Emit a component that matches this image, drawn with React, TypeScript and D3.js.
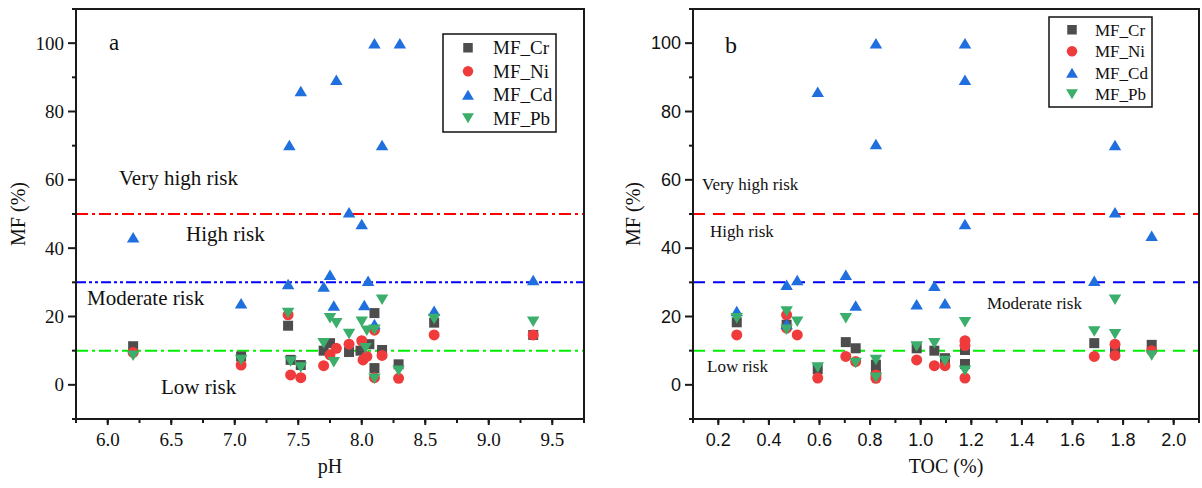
import React from "react";
import * as d3 from "d3";

type P = [number, number];

// ---- Panel a: pH vs MF (%) ----
const phCr: P[] = [[6.2, 11.3], [7.05, 8.3], [7.42, 17.3], [7.44, 7.3], [7.52, 5.8], [7.7, 10], [7.75, 12.2], [7.9, 9.6], [7.99, 10], [8.06, 11.9], [8.1, 21], [8.1, 4.9], [8.16, 10.2], [8.29, 6], [8.57, 18.2], [9.35, 14.6]];
const phNi: P[] = [[6.2, 9.5], [7.05, 5.8], [7.42, 20.5], [7.44, 2.9], [7.52, 2.1], [7.7, 5.6], [7.75, 8.8], [7.8, 10.7], [7.9, 11.9], [8.0, 12.9], [8.01, 7.3], [8.04, 8.3], [8.1, 16], [8.1, 2.1], [8.16, 8.6], [8.29, 1.9], [8.57, 14.6], [9.35, 14.6]];
const phCd: P[] = [[6.2, 43.2], [7.05, 23.9], [7.42, 29.5], [7.43, 70.2], [7.52, 86], [7.7, 28.8], [7.75, 32.2], [7.78, 23.2], [7.8, 89.3], [7.9, 50.5], [8.0, 47.1], [8.02, 23.4], [8.05, 30.5], [8.1, 100], [8.1, 17.8], [8.16, 70.2], [8.3, 100], [8.57, 21.7], [9.35, 30.7]];
const phPb: P[] = [[6.2, 8.5], [7.05, 7.3], [7.42, 21], [7.44, 6.8], [7.52, 5.1], [7.7, 12.2], [7.75, 19.5], [7.78, 6.6], [7.8, 18], [7.9, 14.9], [8.0, 18.5], [8.04, 15.8], [8.03, 10.7], [8.1, 16.1], [8.1, 1.8], [8.16, 24.9], [8.29, 4.1], [8.57, 19.3], [9.35, 18.5]];

// ---- Panel b: TOC (%) vs MF (%) ----
const tocCr: P[] = [[0.273, 18.3], [0.47, 17.6], [0.593, 4.6], [0.704, 12.5], [0.743, 10.7], [0.823, 5.9], [0.823, 3.5], [0.984, 10.7], [1.054, 10], [1.096, 7.8], [1.175, 10.2], [1.175, 6.1], [1.686, 12.2], [1.768, 10.7], [1.913, 11.7]];
const tocNi: P[] = [[0.273, 14.6], [0.47, 20.5], [0.47, 16.6], [0.512, 14.6], [0.593, 2], [0.704, 8.3], [0.743, 6.8], [0.823, 2.9], [0.823, 1.9], [0.984, 7.3], [1.054, 5.6], [1.096, 5.6], [1.175, 12.9], [1.175, 11.5], [1.175, 2], [1.686, 8.3], [1.768, 11.9], [1.768, 8.6], [1.913, 10]];
const tocCd: P[] = [[0.273, 21.6], [0.47, 29.3], [0.47, 17.8], [0.512, 30.7], [0.593, 85.8], [0.704, 32.2], [0.743, 23.2], [0.823, 100], [0.823, 70.5], [0.984, 23.6], [1.054, 29], [1.096, 23.9], [1.175, 100], [1.175, 89.3], [1.175, 47.1], [1.686, 30.5], [1.768, 70.2], [1.768, 50.5], [1.913, 43.6]];
const tocPb: P[] = [[0.273, 19.5], [0.47, 21.5], [0.47, 16.1], [0.512, 18.5], [0.593, 5.1], [0.704, 19.5], [0.743, 6.4], [0.823, 7.3], [0.823, 2.1], [0.984, 11.2], [1.054, 12.2], [1.096, 7], [1.175, 18.3], [1.175, 4.1], [1.686, 15.6], [1.768, 24.9], [1.768, 14.8], [1.913, 8.6]];

const seriesNames = ["MF_Cr", "MF_Ni", "MF_Cd", "MF_Pb"];
const seriesColors = ["#4d4d4d", "#ef3b3b", "#1f6fdf", "#3aae6a"];
const seriesShapes = ["square", "circle", "up", "down"];

const phTicks = [6.0, 6.5, 7.0, 7.5, 8.0, 8.5, 9.0, 9.5];
const tocTicks = [0.2, 0.4, 0.6, 0.8, 1.0, 1.2, 1.4, 1.6, 1.8, 2.0];
const yTicks = [0, 20, 40, 60, 80, 100];
const yMinor = [-10, 10, 30, 50, 70, 90, 110];

const riskThresholds = [50, 30, 10];
const riskLineColors = ["#ff0000", "#0000ff", "#00ee00"];
const riskNames = ["Very high risk", "High risk", "Moderate risk", "Low risk"];

const SERIF = "'Liberation Serif', 'Times New Roman', serif";
const SANS = "'Liberation Sans', Arial, sans-serif";

function marker(shape: string, x: number, y: number, color: string, s: number, key?: any) {
  if (shape === "square") {
    const h = s * 0.5;
    return <rect key={key} x={x - h} y={y - h} width={s} height={s} fill={color} />;
  }
  if (shape === "circle") {
    return <circle key={key} cx={x} cy={y} r={s * 0.55} fill={color} />;
  }
  const w = s * 1.25;
  const h = s * 1.05;
  if (shape === "up") {
    return <path key={key} d={`M${x},${y - h / 2}L${x + w / 2},${y + h / 2}L${x - w / 2},${y + h / 2}Z`} fill={color} />;
  }
  return <path key={key} d={`M${x},${y + h / 2}L${x + w / 2},${y - h / 2}L${x - w / 2},${y - h / 2}Z`} fill={color} />;
}

type PanelProps = {
  x0: number; x1: number; y0: number; y1: number;
  xDomain: [number, number];
  xTicks: number[]; xMinor: number[]; xFmt: (v: number) => string;
  data: P[][];
  tickFont: string; tickSize: number;
  xTitle: string; yTitleX: number;
  letter: string; letterPos: [number, number]; letterSize: number;
  dash: string[];
  riskPos: [number, number][]; riskSize: number;
  legend: { x: number; y: number; w: number; rowH: number; fs: number; symX: number; textX: number };
};

function Panel(p: PanelProps) {
  const xs = d3.scaleLinear().domain(p.xDomain).range([p.x0, p.x1]);
  const ys = d3.scaleLinear().domain([-10, 110]).range([p.y1, p.y0]);
  const axisColor = "#1a1a1a";
  return (
    <g>
      {/* reference lines */}
      {riskThresholds.map((t, i) => (
        <line key={"r" + i} x1={p.x0} x2={p.x1} y1={ys(t)} y2={ys(t)} stroke={riskLineColors[i]} strokeWidth={2} strokeDasharray={p.dash[i]} />
      ))}
      {/* risk labels */}
      {riskNames.map((n, i) => (
        <text key={"t" + i} x={p.riskPos[i][0]} y={p.riskPos[i][1]} fontFamily={SERIF} fontSize={p.riskSize} fill="#111">{n}</text>
      ))}
      {/* points */}
      {p.data.map((arr, si) => (
        <g key={"s" + si}>
          {arr.map((d, j) => marker(seriesShapes[si], xs(d[0]), ys(d[1]), seriesColors[si], 10, j))}
        </g>
      ))}
      {/* frame */}
      <rect x={p.x0} y={p.y0} width={p.x1 - p.x0} height={p.y1 - p.y0} fill="none" stroke={axisColor} strokeWidth={2} />
      {/* y ticks */}
      {yTicks.map((t) => (
        <g key={"yt" + t}>
          <line x1={p.x0 - 8} x2={p.x0} y1={ys(t)} y2={ys(t)} stroke={axisColor} strokeWidth={2} />
          <text x={p.x0 - 12} y={ys(t)} dy="0.35em" textAnchor="end" fontFamily={p.tickFont} fontSize={p.tickSize} fill="#111">{t}</text>
        </g>
      ))}
      {yMinor.map((t) => (
        <line key={"ym" + t} x1={p.x0 - 4} x2={p.x0} y1={ys(t)} y2={ys(t)} stroke={axisColor} strokeWidth={2} />
      ))}
      {/* x ticks */}
      {p.xTicks.map((t) => (
        <g key={"xt" + t}>
          <line x1={xs(t)} x2={xs(t)} y1={p.y1} y2={p.y1 + 6} stroke={axisColor} strokeWidth={2} />
          <text x={xs(t)} y={p.y1 + 27} textAnchor="middle" fontFamily={p.tickFont} fontSize={p.tickSize} fill="#111">{p.xFmt(t)}</text>
        </g>
      ))}
      {p.xMinor.map((t, i) => (
        <line key={"xm" + i} x1={xs(t)} x2={xs(t)} y1={p.y1} y2={p.y1 + 4} stroke={axisColor} strokeWidth={2} />
      ))}
      {/* titles */}
      <text x={(p.x0 + p.x1) / 2} y={473} textAnchor="middle" fontFamily={SERIF} fontSize={20} fill="#111">{p.xTitle}</text>
      <text transform={`translate(${p.yTitleX},${(p.y0 + p.y1) / 2}) rotate(-90)`} textAnchor="middle" dy="0.35em" fontFamily={SERIF} fontSize={20} fill="#111">MF (%)</text>
      <text x={p.letterPos[0]} y={p.letterPos[1]} fontFamily={SERIF} fontSize={p.letterSize} fill="#111">{p.letter}</text>
      {/* legend */}
      <rect x={p.legend.x} y={p.legend.y} width={p.legend.w} height={p.legend.rowH * 4 + 4} fill="#fff" stroke="#111" strokeWidth={1.5} />
      {seriesNames.map((n, i) => {
        const cy = p.legend.y + p.legend.rowH * (i + 0.5) + 2;
        return (
          <g key={"lg" + i}>
            {marker(seriesShapes[i], p.legend.symX, cy, seriesColors[i], 9.5)}
            <text x={p.legend.textX} y={cy} dy="0.35em" fontFamily={SERIF} fontSize={p.legend.fs} fill="#111">{n}</text>
          </g>
        );
      })}
    </g>
  );
}

export default function App() {
  const phMinor = d3.range(5.75, 9.76, 0.25);
  const tocMinor = d3.range(0.1, 2.101, 0.1);
  return (
    <svg width={1202} height={488} style={{ position: "absolute", left: 0, top: 0, background: "#fff" }}>
      <rect x={0} y={0} width={1202} height={488} fill="#fff" />
      <Panel
        x0={76} x1={584} y0={9} y1={419}
        xDomain={[5.75, 9.75]}
        xTicks={phTicks} xMinor={phMinor} xFmt={(v) => v.toFixed(1)}
        data={[phCr, phNi, phCd, phPb]}
        tickFont={SERIF} tickSize={19}
        xTitle="pH" yTitleX={18}
        letter="a" letterPos={[109, 50]} letterSize={23}
        dash={["12,4,3,4", "10,3,3,3,3,3", "12,4,3,4"]}
        riskPos={[[119, 185], [186, 241], [87, 305], [161, 394]]} riskSize={21}
        legend={{ x: 443, y: 34, w: 113, rowH: 23.5, fs: 19, symX: 468, textX: 493 }}
      />
      <Panel
        x0={693} x1={1199} y0={9} y1={419}
        xDomain={[0.1, 2.1]}
        xTicks={tocTicks} xMinor={tocMinor} xFmt={(v) => v.toFixed(1)}
        data={[tocCr, tocNi, tocCd, tocPb]}
        tickFont={SANS} tickSize={18}
        xTitle="TOC (%)" yTitleX={633}
        letter="b" letterPos={[725, 53]} letterSize={24}
        dash={["12,8", "12,8", "12,8"]}
        riskPos={[[702, 190], [710, 237], [987, 309], [707, 372]]} riskSize={17}
        legend={{ x: 1049, y: 17, w: 103, rowH: 21.5, fs: 17, symX: 1072, textX: 1095 }}
      />
    </svg>
  );
}
